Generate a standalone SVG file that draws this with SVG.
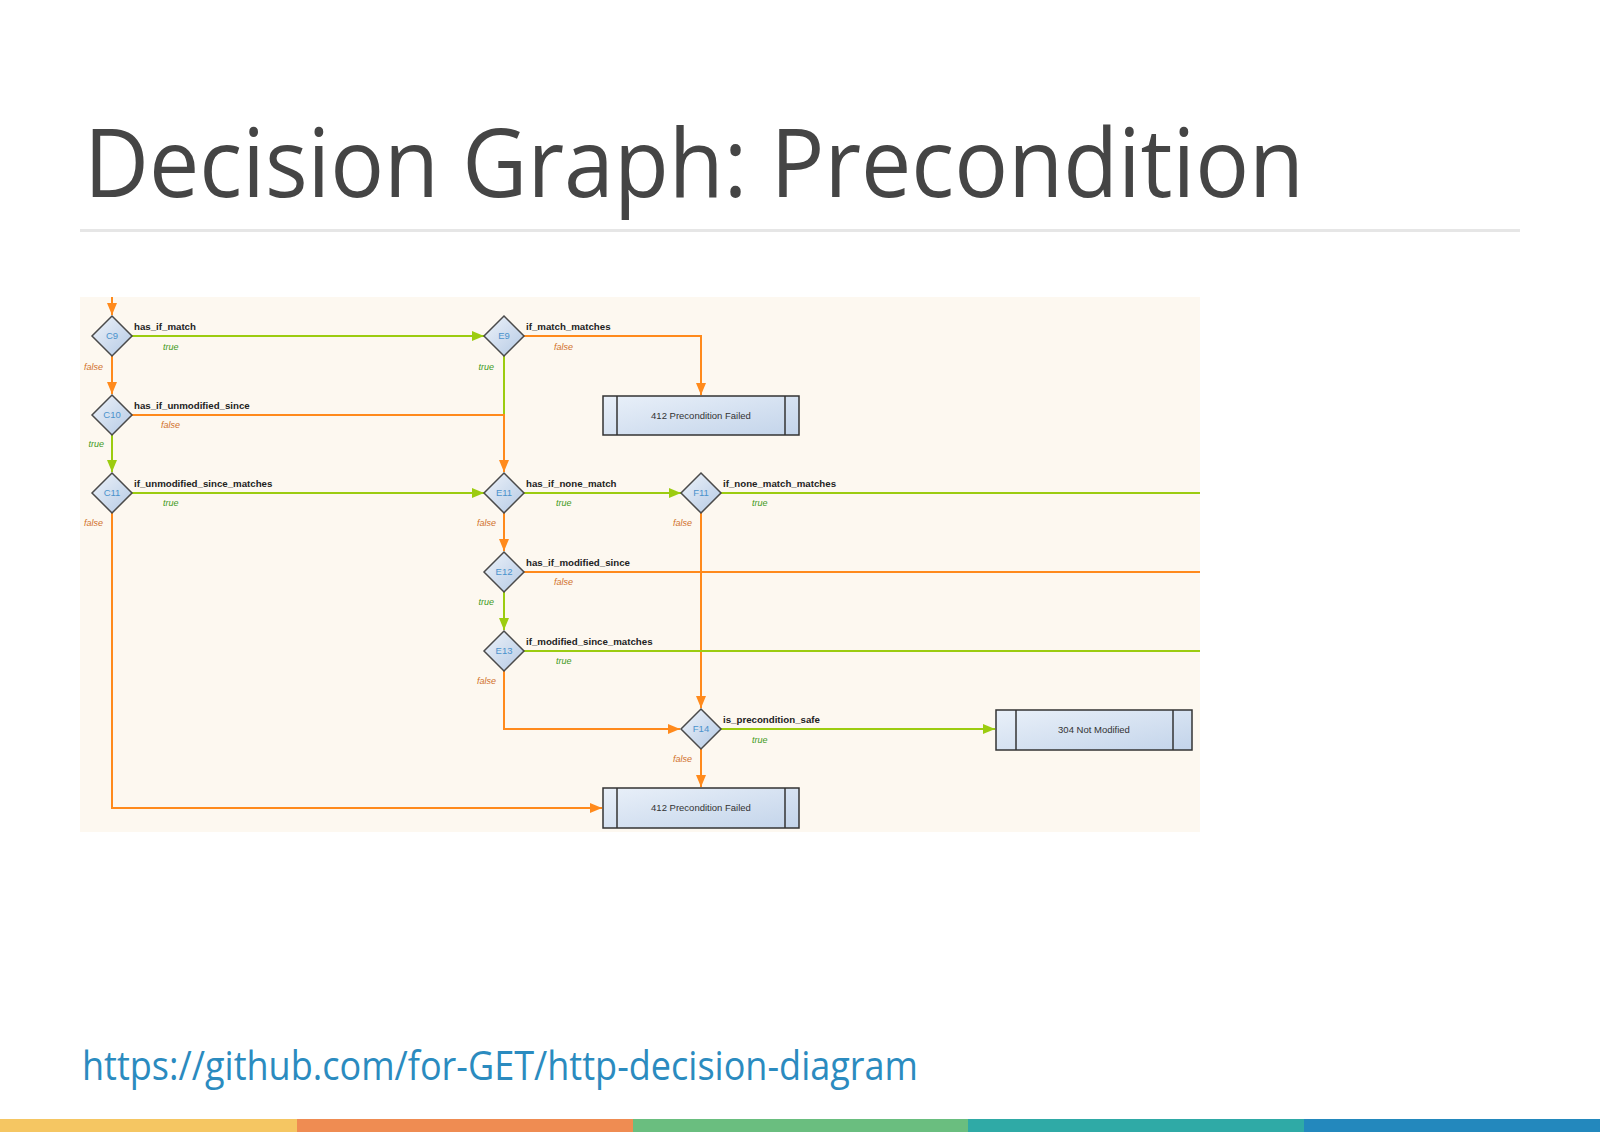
<svg xmlns="http://www.w3.org/2000/svg" width="1600" height="1132" viewBox="0 0 1600 1132">
<defs>
<linearGradient id="dg" x1="0" y1="0" x2="1" y2="1">
<stop offset="0" stop-color="#eef3fa"/>
<stop offset="1" stop-color="#b4c9e4"/>
</linearGradient>
<linearGradient id="bg" x1="0" y1="0" x2="1" y2="1">
<stop offset="0" stop-color="#e9f0f9"/>
<stop offset="1" stop-color="#c3d4ea"/>
</linearGradient>
<marker id="ao" viewBox="0 0 12 10" refX="12" refY="5" markerWidth="12" markerHeight="10" markerUnits="userSpaceOnUse" orient="auto">
<path d="M0,0 L12,5 L0,10 Z" fill="#ff8a1c"/>
</marker>
<marker id="ag" viewBox="0 0 12 10" refX="12" refY="5" markerWidth="12" markerHeight="10" markerUnits="userSpaceOnUse" orient="auto">
<path d="M0,0 L12,5 L0,10 Z" fill="#9ccc10"/>
</marker>
<clipPath id="clip"><rect x="80" y="297" width="1120" height="535"/></clipPath>
</defs>
<style>
.title{font-family:"Open Sans","Noto Sans","DejaVu Sans",sans-serif;font-weight:400;font-size:96px;fill:#454545}
.url{font-family:"Open Sans","Noto Sans","DejaVu Sans",sans-serif;font-weight:400;font-size:40px;fill:#2b8bbf}
.o{fill:none;stroke:#ff8a1c;stroke-width:2}
.g{fill:none;stroke:#9ccc10;stroke-width:2}
.dia{fill:url(#dg);stroke:#4a4a4a;stroke-width:1.5}
.box{fill:url(#bg);stroke:#333;stroke-width:1.5}
.sep{stroke:#333;stroke-width:1.5}
.dl{font-family:"Liberation Sans",Arial,sans-serif;font-size:9.5px;fill:#4a92cc;text-anchor:middle}
.bl{font-family:"Liberation Sans",Arial,sans-serif;font-size:9.5px;fill:#333;text-anchor:middle}
.lb{font-family:"Liberation Sans",Arial,sans-serif;font-size:9.7px;font-weight:bold;fill:#222}
.t{font-family:"Liberation Sans",Arial,sans-serif;font-size:9px;font-style:italic;fill:#3f9a1c}
.f{font-family:"Liberation Sans",Arial,sans-serif;font-size:9px;font-style:italic;fill:#d0702a}
.e{text-anchor:end}
</style>
<rect x="0" y="0" width="1600" height="1132" fill="#ffffff"/>
<text class="title" x="84" y="197" textLength="1220" lengthAdjust="spacingAndGlyphs">Decision Graph: Precondition</text>
<rect x="80" y="229" width="1440" height="3" fill="#e6e6e6"/>
<rect x="80" y="297" width="1120" height="535" fill="#fdf8f0"/>
<g id="connectors" clip-path="url(#clip)">
<path class="o" d="M112,297 V315" marker-end="url(#ao)"/>
<path class="g" d="M132,336 H484" marker-end="url(#ag)"/>
<path class="o" d="M112,356 V394" marker-end="url(#ao)"/>
<path class="g" d="M504,356 V415"/>
<path class="o" d="M132,415 H504 V472" marker-end="url(#ao)"/>
<path class="g" d="M112,435 V472" marker-end="url(#ag)"/>
<path class="g" d="M132,493 H484" marker-end="url(#ag)"/>
<path class="o" d="M112,513 V808 H602" marker-end="url(#ao)"/>
<path class="o" d="M524,336 H701 V395" marker-end="url(#ao)"/>
<path class="g" d="M524,493 H681" marker-end="url(#ag)"/>
<path class="o" d="M504,513 V551" marker-end="url(#ao)"/>
<path class="g" d="M721,493 H1210"/>
<path class="o" d="M701,513 V708" marker-end="url(#ao)"/>
<path class="o" d="M524,572 H1210"/>
<path class="g" d="M504,592 V630" marker-end="url(#ag)"/>
<path class="g" d="M524,651 H1210"/>
<path class="o" d="M504,671 V729 H680" marker-end="url(#ao)"/>
<path class="g" d="M721,729 H995" marker-end="url(#ag)"/>
<path class="o" d="M701,749 V787" marker-end="url(#ao)"/>
</g>
<g id="edge-labels">
<text class="lb" x="134" y="330">has_if_match</text>
<text class="t" x="163" y="350">true</text>
<text class="f e" x="103" y="370">false</text>
<text class="lb" x="134" y="409">has_if_unmodified_since</text>
<text class="f" x="161" y="428">false</text>
<text class="t e" x="104" y="447">true</text>
<text class="lb" x="134" y="487">if_unmodified_since_matches</text>
<text class="t" x="163" y="506">true</text>
<text class="f e" x="103" y="526">false</text>
<text class="lb" x="526" y="330">if_match_matches</text>
<text class="f" x="554" y="350">false</text>
<text class="t e" x="494" y="370">true</text>
<text class="lb" x="526" y="487">has_if_none_match</text>
<text class="t" x="556" y="506">true</text>
<text class="f e" x="496" y="526">false</text>
<text class="lb" x="723" y="487">if_none_match_matches</text>
<text class="t" x="752" y="506">true</text>
<text class="f e" x="692" y="526">false</text>
<text class="lb" x="526" y="566">has_if_modified_since</text>
<text class="f" x="554" y="585">false</text>
<text class="t e" x="494" y="605">true</text>
<text class="lb" x="526" y="645">if_modified_since_matches</text>
<text class="t" x="556" y="664">true</text>
<text class="f e" x="496" y="684">false</text>
<text class="lb" x="723" y="723">is_precondition_safe</text>
<text class="t" x="752" y="743">true</text>
<text class="f e" x="692" y="762">false</text>
</g>
<g id="C9"><path class="dia" d="M112,316 L132,336 L112,356 L92,336 Z"/><text class="dl" x="112" y="339">C9</text></g>
<g id="C10"><path class="dia" d="M112,395 L132,415 L112,435 L92,415 Z"/><text class="dl" x="112" y="418">C10</text></g>
<g id="C11"><path class="dia" d="M112,473 L132,493 L112,513 L92,493 Z"/><text class="dl" x="112" y="496">C11</text></g>
<g id="E9"><path class="dia" d="M504,316 L524,336 L504,356 L484,336 Z"/><text class="dl" x="504" y="339">E9</text></g>
<g id="E11"><path class="dia" d="M504,473 L524,493 L504,513 L484,493 Z"/><text class="dl" x="504" y="496">E11</text></g>
<g id="F11"><path class="dia" d="M701,473 L721,493 L701,513 L681,493 Z"/><text class="dl" x="701" y="496">F11</text></g>
<g id="E12"><path class="dia" d="M504,552 L524,572 L504,592 L484,572 Z"/><text class="dl" x="504" y="575">E12</text></g>
<g id="E13"><path class="dia" d="M504,631 L524,651 L504,671 L484,651 Z"/><text class="dl" x="504" y="654">E13</text></g>
<g id="F14"><path class="dia" d="M701,709 L721,729 L701,749 L681,729 Z"/><text class="dl" x="701" y="732">F14</text></g>
<g id="R412a"><rect class="box" x="603" y="396" width="196" height="39"/><line class="sep" x1="617" y1="396" x2="617" y2="435"/><line class="sep" x1="785" y1="396" x2="785" y2="435"/><text class="bl" x="701" y="419">412 Precondition Failed</text></g>
<g id="R412b"><rect class="box" x="603" y="788" width="196" height="40"/><line class="sep" x1="617" y1="788" x2="617" y2="828"/><line class="sep" x1="785" y1="788" x2="785" y2="828"/><text class="bl" x="701" y="811">412 Precondition Failed</text></g>
<g id="R304"><rect class="box" x="996" y="710" width="196" height="40"/><line class="sep" x1="1016" y1="710" x2="1016" y2="750"/><line class="sep" x1="1173" y1="710" x2="1173" y2="750"/><text class="bl" x="1094" y="733">304 Not Modified</text></g>
<text class="url" x="82" y="1080" textLength="836" lengthAdjust="spacingAndGlyphs">https://github.com/for-GET/http-decision-diagram</text>
<g id="colorbar">
<rect x="0" y="1119" width="297" height="13" fill="#f5c662"/>
<rect x="297" y="1119" width="336" height="13" fill="#ef8c52"/>
<rect x="633" y="1119" width="335" height="13" fill="#6abe7f"/>
<rect x="968" y="1119" width="336" height="13" fill="#2faaa6"/>
<rect x="1304" y="1119" width="296" height="13" fill="#2388bd"/>
</g>
</svg>
